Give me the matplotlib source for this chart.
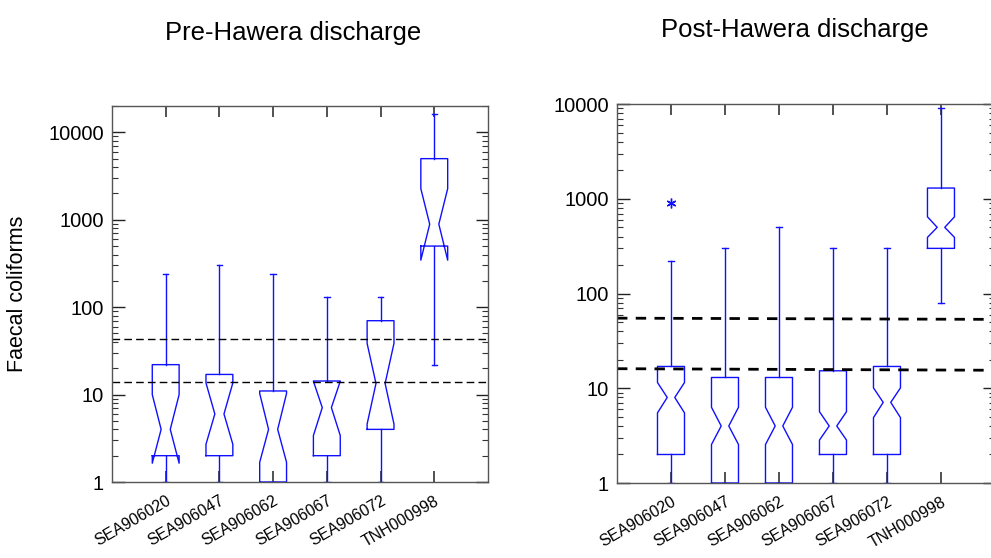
"""
Faecal coliforms at monitoring sites, before and after the Hawera discharge
"""

import matplotlib
matplotlib.use('Agg')
from matplotlib import pyplot as plt
from matplotlib import ticker
import numpy as np

plt.rcParams['font.family'] = ['Liberation Sans', 'DejaVu Sans']
plt.rcParams['lines.scale_dashes'] = False

stations = ['SEA906020', 'SEA906047', 'SEA906062', 'SEA906067', 'SEA906072', 'TNH000998']

# Pre-Hawera discharge summaries (log-scale boxes, notches = CI of median)
pre_whislo = [1, 1, 1, 1, 1, 22]
pre_q1 = [2, 2, 1, 2, 4, 500]
pre_cilo = [1.64, 2.7, 1.68, 3.4, 4.6, 345]
pre_med = [4, 6, 4, 7.1, 13.4, 890]
pre_cihi = [10, 13.6, 10.3, 14.2, 38.5, 2270]
pre_q3 = [22, 17, 11, 14.3, 70, 5000]
pre_whishi = [240, 300, 240, 130, 130, 16000]
pre_limits = [43, 14]

# Post-Hawera discharge summaries
post_whislo = [1, 1, 1, 1, 1, 80]
post_q1 = [2, 1, 1, 2, 2, 300]
post_cilo = [5.5, 2.55, 2.55, 2.84, 4.9, 392]
post_med = [8, 4, 4, 4, 7.1, 500]
post_cihi = [11.5, 6.3, 6.3, 5.66, 10.1, 646]
post_q3 = [17, 13, 13, 15.3, 17, 1300]
post_whishi = [220, 300, 500, 300, 300, 9000]
post_outlier_site = [1]
post_outlier_val = [900]
post_limits_start = [55, 16.1]
post_limits_end = [53.4, 15.5]

BLUE = '#1010ff'


def notched_box(ax, x, lo, q1, cilo, med, cihi, q3, hi, w=0.5, waist=0.16, cap=0.1):
    xs = [x - w/2, x + w/2, x + w/2, x + waist/2, x + w/2, x + w/2,
          x - w/2, x - w/2, x - waist/2, x - w/2, x - w/2]
    ys = [q1, q1, cilo, med, cihi, q3, q3, cihi, med, cilo, q1]
    ax.plot(xs, ys, color=BLUE, lw=1.0)
    ax.plot([x, x], [q3, hi], color=BLUE, lw=1.0)
    ax.plot([x, x], [lo, q1], color=BLUE, lw=1.0)
    ax.plot([x - cap/2, x + cap/2], [hi, hi], color=BLUE, lw=1.0)
    ax.plot([x - cap/2, x + cap/2], [lo, lo], color=BLUE, lw=1.0)


def style_axis(ax, ytop):
    ax.set_yscale('log')
    ax.set_ylim(1, ytop)
    ax.set_xlim(0, 7)
    ax.yaxis.set_major_locator(ticker.FixedLocator([1, 10, 100, 1000, 10000]))
    ax.yaxis.set_minor_locator(ticker.LogLocator(base=10, subs=np.arange(2, 10)))
    ax.yaxis.set_major_formatter(ticker.FuncFormatter(lambda v, p: '%d' % v))
    ax.yaxis.set_minor_formatter(ticker.NullFormatter())
    ax.tick_params(axis='y', which='major', direction='in', length=9, width=1,
                   left=True, right=True, labelsize=14.5, pad=6, color='#222222')
    ax.tick_params(axis='y', which='minor', direction='in', length=4.5, width=0.8,
                   left=True, right=True, color='#333333')
    ax.set_xticks(np.arange(1, 7))
    ax.set_xticklabels(stations, rotation=30, ha='right', va='top',
                       rotation_mode='anchor', fontsize=11.5)
    ax.tick_params(axis='x', which='major', direction='in', length=8, width=1.2,
                   top=True, bottom=True, pad=8, color='#333333')
    for sp in ax.spines.values():
        sp.set_color('#555555')
        sp.set_linewidth(1.0)


fig = plt.figure(figsize=(9.91, 5.58), dpi=100)

ax1 = fig.add_axes([0.113, 0.1362, 0.3794, 0.6738])
ax2 = fig.add_axes([0.6226, 0.1344, 0.3814, 0.679])

pos = np.arange(1, 7)

for i, x in enumerate(pos):
    notched_box(ax1, x, pre_whislo[i], pre_q1[i], pre_cilo[i], pre_med[i],
                pre_cihi[i], pre_q3[i], pre_whishi[i], waist=0.17)
for lim in pre_limits:
    ax1.axhline(lim, color='black', lw=1.0, dashes=(5.5, 3))

for i, x in enumerate(pos):
    notched_box(ax2, x, post_whislo[i], post_q1[i], post_cilo[i], post_med[i],
                post_cihi[i], post_q3[i], post_whishi[i], waist=0.14)
ax2.plot(post_outlier_site, post_outlier_val, linestyle='none', marker=(6, 2, 0),
         markersize=7, color=BLUE, markeredgewidth=1.0)
for a, b in zip(post_limits_start, post_limits_end):
    ax2.plot([0, 7], [a, b], color='black', lw=2.0, dashes=(7.5, 6))

style_axis(ax1, 20000)
style_axis(ax2, 10000)

fig.text(18 / 991, 1 - 294 / 558, 'Faecal coliforms', rotation=90,
         ha='center', va='center', fontsize=15.5)
fig.text(293 / 991, 1 - 40 / 558, 'Pre-Hawera discharge', ha='center',
         va='baseline', fontsize=18.5)
fig.text(795 / 991, 1 - 37 / 558, 'Post-Hawera discharge', ha='center',
         va='baseline', fontsize=18.5)

fig.savefig('out.png', dpi=100)
